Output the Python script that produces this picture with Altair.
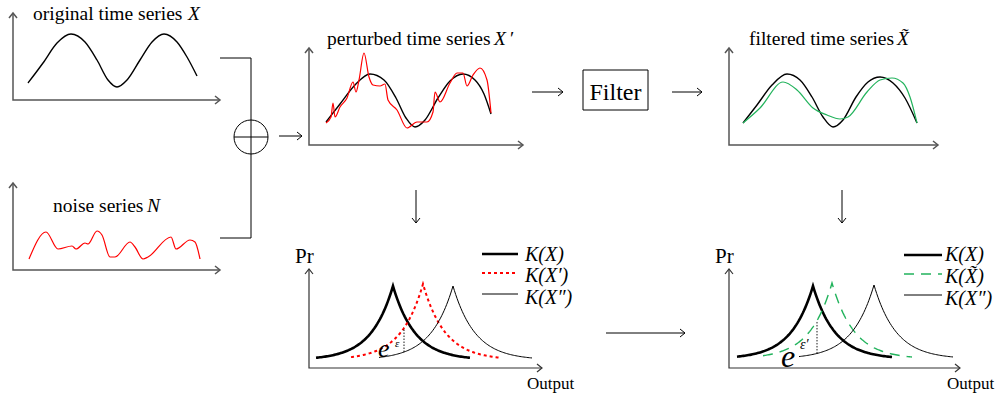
import altair as alt
import numpy as np
import pandas as pd

W, H = 998, 398

# ---------------- values (canvas pixels) ----------------
# original series X (panel 1)
orig_x = [28, 43, 57, 71, 85, 97, 108, 117, 127, 140, 152, 164, 177, 187, 197]
orig_y = [83, 63, 43, 34, 42, 60, 80, 87, 80, 60, 42, 34, 42, 57, 76]

# noise series N (panel 2)
noise_x = [29, 46, 58, 72, 76, 85, 88, 97, 102, 110, 115, 130, 135, 143, 148, 171, 176, 190, 195, 200]
noise_y = [259, 232, 249, 246, 249, 243, 244, 231, 235, 257, 257, 242, 247, 259, 257, 237, 249, 240, 242, 259]

# perturbed panel: clean X (black) and X' (red)
pclean_x = [326, 340, 355, 370, 384, 396, 406, 415, 425, 438, 450, 463, 475, 484, 491]
pclean_y = [122, 104, 85, 74, 80, 98, 118, 127, 120, 98, 81, 74, 80, 94, 114]
pert_x = [326, 331, 333, 335, 340, 347, 353, 356, 359, 364, 369, 373, 380, 385, 388, 397,
          407, 417, 427, 433, 435, 440, 450, 457, 463, 467, 473, 480, 487, 491]
pert_y = [123, 117, 103, 117, 107, 98, 82, 92, 80, 53, 77, 85, 86, 84, 100, 110,
          128, 122, 122, 112, 92, 102, 83, 73, 73, 86, 75, 68, 80, 113]

# filtered panel: clean X (black) and X~ (green)
fclean_x = [743, 757, 772, 787, 800, 812, 823, 833, 843, 856, 868, 880, 893, 905, 917]
fclean_y = [123, 105, 85, 74, 80, 97, 117, 127, 120, 97, 82, 77, 83, 98, 123]
filt_x = [743, 760, 783, 797, 813, 827, 840, 848, 867, 880, 892, 903, 910, 917]
filt_y = [123, 108, 82, 90, 108, 115, 119, 117, 92, 80, 78, 83, 97, 123]

# output distributions: peak position, peak height, tail ends
lap5_peak_x = [393, 423, 453]
lap5_peak_y = [286, 284, 286]
lap5_left = [316, 351, 379]
lap5_right = [470, 500, 532]
lap5_base = 360

lap6_peak_x = [813, 832, 874]
lap6_peak_y = [286, 283, 285]
lap6_left = [737, 763, 799]
lap6_right = [892, 912, 953]
lap6_base = 359

LAP_B = 22

titles = ["original time series", "noise series", "perturbed time series", "filtered time series"]
title_vars = ["X", "N", "X", "X\u0303"]
legend5 = ["K(X)", "K(X\u2032)", "K(X\u2033)"]
legend6 = ["K(X)", "K(X\u0303)", "K(X\u2033)"]

# ---------------- helpers ----------------
XS = alt.Scale(domain=[0, W], nice=False, zero=False)
YS = alt.Scale(domain=[0, H], reverse=True, nice=False, zero=False)
FONT = "Liberation Serif"


def poly_df(polys):
    rows = []
    for g, p in enumerate(polys):
        for i, (x, y) in enumerate(p):
            rows.append({"g": g, "i": i, "x": float(x), "y": float(y)})
    return pd.DataFrame(rows)


def lines(polys, interpolate="linear", **kw):
    return alt.Chart(poly_df(polys)).mark_line(interpolate=interpolate, **kw).encode(
        x=alt.X("x:Q", scale=XS, axis=None),
        y=alt.Y("y:Q", scale=YS, axis=None),
        detail="g:N",
        order="i:Q",
    )


def texts(rows, **kw):
    df = pd.DataFrame(rows, columns=["t", "x", "y"])
    return alt.Chart(df).mark_text(font=FONT, **kw).encode(
        x=alt.X("x:Q", scale=XS, axis=None),
        y=alt.Y("y:Q", scale=YS, axis=None),
        text="t:N",
    )


def tip_right(x, y, s=5):
    return [(x - s, y - s * 0.8), (x, y), (x - s, y + s * 0.8)]


def tip_up(x, y, s=5):
    return [(x - s * 0.8, y + s), (x, y), (x + s * 0.8, y + s)]


def tip_down(x, y, s=5):
    return [(x - s * 0.8, y - s), (x, y), (x + s * 0.8, y - s)]


def axis_polys(ox, oy, top, right):
    return [[(ox, top), (ox, oy), (right, oy)], tip_up(ox, top), tip_right(right, oy)]


def laplace(px, py, base, left, right, n=60):
    xs = np.concatenate([np.linspace(left, px, n), np.linspace(px, right, n)[1:]])
    ys = base - (base - py) * np.exp(-np.abs(xs - px) / LAP_B)
    return list(zip(xs, ys))


def lap_y(px, py, base, x):
    return base - (base - py) * np.exp(-abs(x - px) / LAP_B)


layers = []

# ---------------- axes ----------------
top_axes = []
for ax in [(13, 100, 13, 220), (13, 270, 183, 220), (309, 145, 48, 523), (729, 145, 48, 938)]:
    top_axes += axis_polys(*ax)
layers.append(lines(top_axes, color="#555555", strokeWidth=1.5))

bot_axes = []
for ax in [(309, 368, 269, 542), (729, 368, 269, 960)]:
    bot_axes += axis_polys(*ax)
layers.append(lines(bot_axes, color="#333333", strokeWidth=1.2))

# ---------------- flow arrows & connectors ----------------
flow = [
    [(220, 58), (251, 58), (251, 238), (220, 238)],
    [(234, 137), (268, 137)],
    [(279, 136), (302, 136)], tip_right(302, 136),
    [(532, 92), (563, 92)], tip_right(563, 92),
    [(672, 92), (702, 92)], tip_right(702, 92),
    [(416, 190), (416, 223)], tip_down(416, 223),
    [(842, 190), (842, 223)], tip_down(842, 223),
    [(606, 333), (685, 333)], tip_right(685, 333),
]
layers.append(lines(flow, color="black", strokeWidth=1))

circle_df = pd.DataFrame({"x": [251], "y": [137]})
layers.append(alt.Chart(circle_df).mark_point(shape="circle", filled=False, size=1156,
                                              color="black", strokeWidth=1, opacity=1).encode(
    x=alt.X("x:Q", scale=XS, axis=None), y=alt.Y("y:Q", scale=YS, axis=None)))

box_df = pd.DataFrame({"x": [583], "x2": [648], "y": [70], "y2": [110]})
layers.append(alt.Chart(box_df).mark_rect(fillOpacity=0, stroke="black", strokeWidth=1).encode(
    x=alt.X("x:Q", scale=XS, axis=None), x2="x2:Q",
    y=alt.Y("y:Q", scale=YS, axis=None), y2="y2:Q"))

# ---------------- time series ----------------
GREEN = "#22b35c"
layers.append(lines([list(zip(orig_x, orig_y))], interpolate="monotone", color="black", strokeWidth=1.4))
layers.append(lines([list(zip(noise_x, noise_y))], interpolate="monotone", color="#ff0000", strokeWidth=1.2))
layers.append(lines([list(zip(pclean_x, pclean_y))], interpolate="monotone", color="black", strokeWidth=1.4))
layers.append(lines([list(zip(pert_x, pert_y))], interpolate="monotone", color="#ff0000", strokeWidth=1.2))
layers.append(lines([list(zip(fclean_x, fclean_y))], interpolate="monotone", color="black", strokeWidth=1.4))
layers.append(lines([list(zip(filt_x, filt_y))], interpolate="monotone", color=GREEN, strokeWidth=1.2))

# ---------------- output distributions ----------------
styles = [
    dict(color="black", strokeWidth=2.6),
    None,
    dict(color="black", strokeWidth=1),
]
for (pxs, pys, lefts, rights, base, mid_style) in [
    (lap5_peak_x, lap5_peak_y, lap5_left, lap5_right, lap5_base,
     dict(color="#ff0000", strokeWidth=2, strokeDash=[3, 3])),
    (lap6_peak_x, lap6_peak_y, lap6_left, lap6_right, lap6_base,
     dict(color=GREEN, strokeWidth=1.4, strokeDash=[10, 7])),
]:
    for k in range(3):
        st = styles[k] if styles[k] is not None else mid_style
        layers.append(lines([laplace(pxs[k], pys[k], base, lefts[k], rights[k])], **st))

# dotted verticals between the perturbed/filtered curve and K(X'')
vx5, vx6 = 404, 817
dots = [
    [(vx5, lap_y(lap5_peak_x[2], lap5_peak_y[2], lap5_base, vx5)),
     (vx5, lap_y(lap5_peak_x[1], lap5_peak_y[1], lap5_base, vx5))],
    [(vx6, lap_y(lap6_peak_x[2], lap6_peak_y[2], lap6_base, vx6)),
     (vx6, lap_y(lap6_peak_x[1], lap6_peak_y[1], lap6_base, vx6))],
]
layers.append(lines(dots, color="black", strokeWidth=0.9, strokeDash=[1.5, 1.5]))

# legend lines
leg = [
    ([[(482, 254), (518, 254)]], dict(color="black", strokeWidth=2.6)),
    ([[(482, 273), (518, 273)]], dict(color="#ff0000", strokeWidth=2, strokeDash=[3, 3])),
    ([[(482, 294), (518, 294)]], dict(color="black", strokeWidth=1)),
    ([[(904, 255), (942, 255)]], dict(color="black", strokeWidth=2.6)),
    ([[(904, 274), (942, 274)]], dict(color=GREEN, strokeWidth=1.4, strokeDash=[10, 7])),
    ([[(904, 295), (942, 295)]], dict(color="black", strokeWidth=1)),
]
for polys, st in leg:
    layers.append(lines(polys, **st))

# ---------------- text ----------------
TS = 19.5
layers.append(texts([(titles[0], 33, 20), (titles[1], 53, 212), (titles[2], 327, 45), (titles[3], 749, 45)],
                    fontSize=TS, align="left", baseline="alphabetic", color="black"))
layers.append(texts([(title_vars[0], 188, 20), (title_vars[1], 147, 212), (title_vars[2], 494, 45),
                     (title_vars[3], 897, 45)],
                    fontSize=TS, fontStyle="italic", align="left", baseline="alphabetic", color="black"))
layers.append(texts([("\u2032", 510, 45)], fontSize=TS, align="left", baseline="alphabetic", color="black"))

layers.append(texts([("Filter", 615.5, 100)], fontSize=24, align="center", baseline="alphabetic", color="black"))
layers.append(texts([("Pr", 295, 263), ("Pr", 715, 263)], fontSize=21, align="left", baseline="alphabetic",
                    color="black"))
layers.append(texts([("Output", 527, 389), ("Output", 947, 389)], fontSize=17, align="left",
                    baseline="alphabetic", color="black"))

# legend labels
leg_rows = []
for x0, labels, bases in [(525, legend5, [261, 282, 304]), (945, legend6, [261, 283, 305])]:
    for lab, b in zip(labels, bases):
        leg_rows.append((lab, x0, b))
layers.append(texts(leg_rows, fontSize=20, fontStyle="italic", align="left", baseline="alphabetic",
                    color="black"))

# e^eps labels
layers.append(texts([("e", 378, 357)], fontSize=26, fontStyle="italic", align="left", baseline="alphabetic",
                    color="black"))
layers.append(texts([("\u03b5", 395, 347)], fontSize=11, fontStyle="italic", align="left",
                    baseline="alphabetic", color="black"))
layers.append(texts([("e", 781, 367)], fontSize=32, fontStyle="italic", align="left", baseline="alphabetic",
                    color="black"))
layers.append(texts([("\u03b5\u2032", 800, 349)], fontSize=14, fontStyle="italic", align="left",
                    baseline="alphabetic", color="black"))

chart = alt.layer(*layers).properties(
    width=W, height=H, padding=0, autosize=alt.AutoSizeParams(type="none"),
    background="white",
).configure_view(stroke=None)

chart.save("out.html", embed_options={"renderer": "svg", "actions": False})
